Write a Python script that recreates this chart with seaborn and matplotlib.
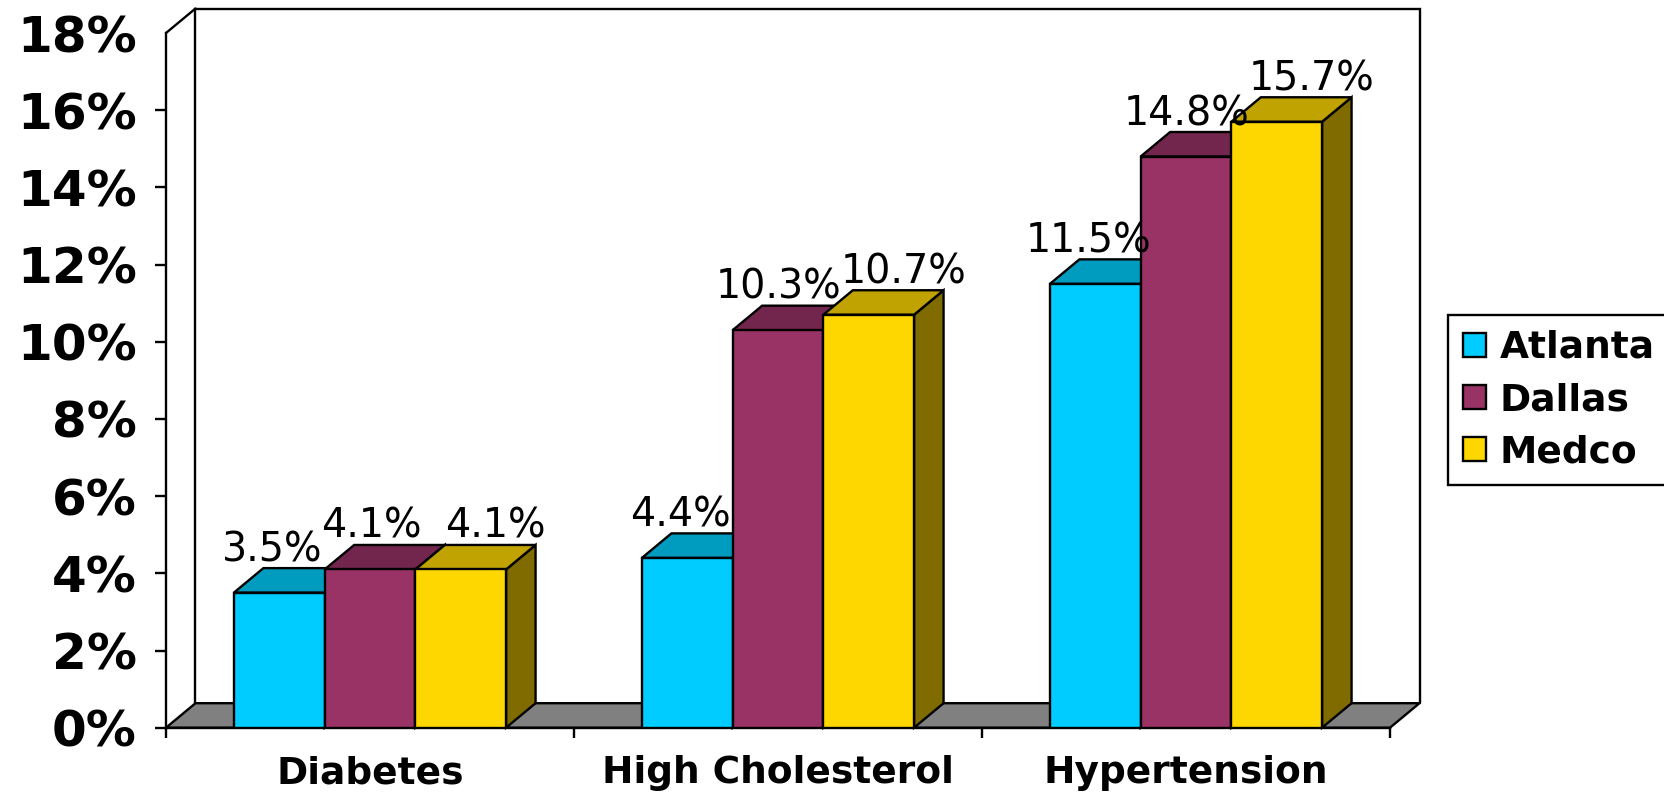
import numpy as np
import pandas as pd
import matplotlib
matplotlib.use("Agg")
import matplotlib.pyplot as plt
import seaborn as sns
from matplotlib.patches import Polygon, Patch
from matplotlib.ticker import FuncFormatter

# ---- data -------------------------------------------------------------
categories = ["Diabetes", "High Cholesterol", "Hypertension"]
series = ["Atlanta", "Dallas", "Medco"]
atlanta = [3.5, 4.4, 11.5]
dallas = [4.1, 10.3, 14.8]
medco = [4.1, 10.7, 15.7]
y_ticks = [0, 2, 4, 6, 8, 10, 12, 14, 16, 18]

# ---- style ------------------------------------------------------------
front_colors = ["#00CCFF", "#993366", "#FFD700"]
top_colors = ["#009CC0", "#73264D", "#C0A200"]
side_colors = ["#006680", "#4D1933", "#806B00"]
label_dx_px = [-7, 1, 35]      # horizontal nudge of value labels per series
EDGE = 1.7

df = pd.DataFrame({
    "category": categories * 3,
    "site": [s for s in series for _ in categories],
    "value": atlanta + dallas + medco,
})

sns.set_theme(style="white")
plt.rcParams["font.family"] = ["DejaVu Sans"]
plt.rcParams["text.color"] = "black"
plt.rcParams["xtick.color"] = "black"
plt.rcParams["ytick.color"] = "black"
plt.rcParams["axes.labelcolor"] = "black"

W, H, DPI = 1664, 794, 100
fig = plt.figure(figsize=(W / DPI, H / DPI), dpi=DPI)
fig.patch.set_facecolor("white")
ax = fig.add_axes([166 / W, 1 - 727.7 / H, (1390 - 166) / W, (727.7 - 33) / H])
ax.patch.set_alpha(0)

sns.barplot(data=df, x="category", y="value", hue="site",
            order=categories, hue_order=series, palette=front_colors,
            saturation=1, width=0.667, edgecolor="black", linewidth=EDGE,
            errorbar=None, legend=False, ax=ax)

ax.set_xlim(-0.5, 2.5)
ax.set_ylim(0, 18)
ax.set_xlabel("")
ax.set_ylabel("")

# oblique depth of the 3-D box, converted to data units
DEPTH_X_PX, DEPTH_Y_PX = 29.5, 24.5
ddx = DEPTH_X_PX / (ax.bbox.width / 3.0)
ddy = DEPTH_Y_PX / (ax.bbox.height / 18.0)
x_lo, x_hi, y_top = -0.5, 2.5, 18

# floor
ax.add_patch(Polygon([(x_lo, 0), (x_hi, 0), (x_hi + ddx, ddy), (x_lo + ddx, ddy)],
                     closed=True, fc="#808080", ec="black", lw=EDGE,
                     zorder=2, clip_on=False))
# back wall and left wall outlines
ax.plot([x_lo + ddx, x_lo + ddx, x_hi + ddx, x_hi + ddx],
        [ddy, y_top + ddy, y_top + ddy, ddy],
        color="black", lw=EDGE, zorder=1.5, clip_on=False, solid_joinstyle="miter")
ax.plot([x_lo, x_lo + ddx], [y_top, y_top + ddy],
        color="black", lw=EDGE, zorder=1.5, clip_on=False)

# 3-D tops and sides of every bar, drawn left to right
bars = []
for si, cont in enumerate(ax.containers):
    for rect in cont:
        bars.append((rect.get_x(), si, rect))
bars.sort(key=lambda t: t[0])
for k, (x0, si, rect) in enumerate(bars):
    w, h = rect.get_width(), rect.get_height()
    x1 = x0 + w
    z = 10 + 3 * k
    rect.set_zorder(z + 2)
    ax.add_patch(Polygon([(x1, 0), (x1, h), (x1 + ddx, h + ddy), (x1 + ddx, ddy)],
                         closed=True, fc=side_colors[si], ec="black", lw=EDGE,
                         zorder=z, clip_on=False))
    ax.add_patch(Polygon([(x0, h), (x1, h), (x1 + ddx, h + ddy), (x0 + ddx, h + ddy)],
                         closed=True, fc=top_colors[si], ec="black", lw=EDGE,
                         zorder=z + 1, clip_on=False))
    lx = x0 + w / 2 + label_dx_px[si] / (ax.bbox.width / 3.0)
    ly = h + ddy + 7 / (ax.bbox.height / 18.0)
    ax.text(lx, ly, f"{h:.1f}%", ha="center", va="baseline",
            fontsize=28.5, color="black", zorder=100, clip_on=False)

# axes, spines, ticks
for s in ["top", "right"]:
    ax.spines[s].set_visible(False)
for s in ["left", "bottom"]:
    ax.spines[s].set_color("black")
    ax.spines[s].set_linewidth(EDGE)
    ax.spines[s].set_zorder(3)

ax.set_yticks(y_ticks)
ax.yaxis.set_major_formatter(FuncFormatter(lambda v, p: f"{v:.0f}%"))
ax.tick_params(axis="y", which="major", left=True, direction="out", length=8,
               width=EDGE, color="black", pad=13, labelsize=36, labelcolor="black")
for lab in ax.get_yticklabels():
    lab.set_fontweight("bold")
ax.yaxis.get_major_ticks()[-1].tick1line.set_visible(False)

ax.set_xticks(range(len(categories)))
ax.set_xticklabels(categories, fontsize=27, fontweight="bold", color="black")
ax.set_xticks([x_lo, 0.5, 1.5, x_hi], minor=True)
ax.tick_params(axis="x", which="major", bottom=True, length=0, pad=20)
ax.tick_params(axis="x", which="minor", bottom=True, direction="out",
               length=7.2, width=EDGE, color="black")
ax.grid(False)

# legend
handles = [Patch(fc=c, ec="black", lw=EDGE) for c in front_colors]
leg = fig.legend(handles, series, loc="upper left",
                 bbox_to_anchor=(1448 / W, 1 - 315 / H), borderaxespad=0,
                 frameon=True, fancybox=False, edgecolor="black", framealpha=1,
                 prop={"weight": "bold", "size": 27},
                 handlelength=0.6, handleheight=0.6, handletextpad=0.37,
                 borderpad=0.4, labelspacing=0.43)
leg.get_frame().set_linewidth(EDGE)
for t in leg.get_texts():
    t.set_color("black")

fig.savefig("out.png", dpi=DPI, facecolor="white")
